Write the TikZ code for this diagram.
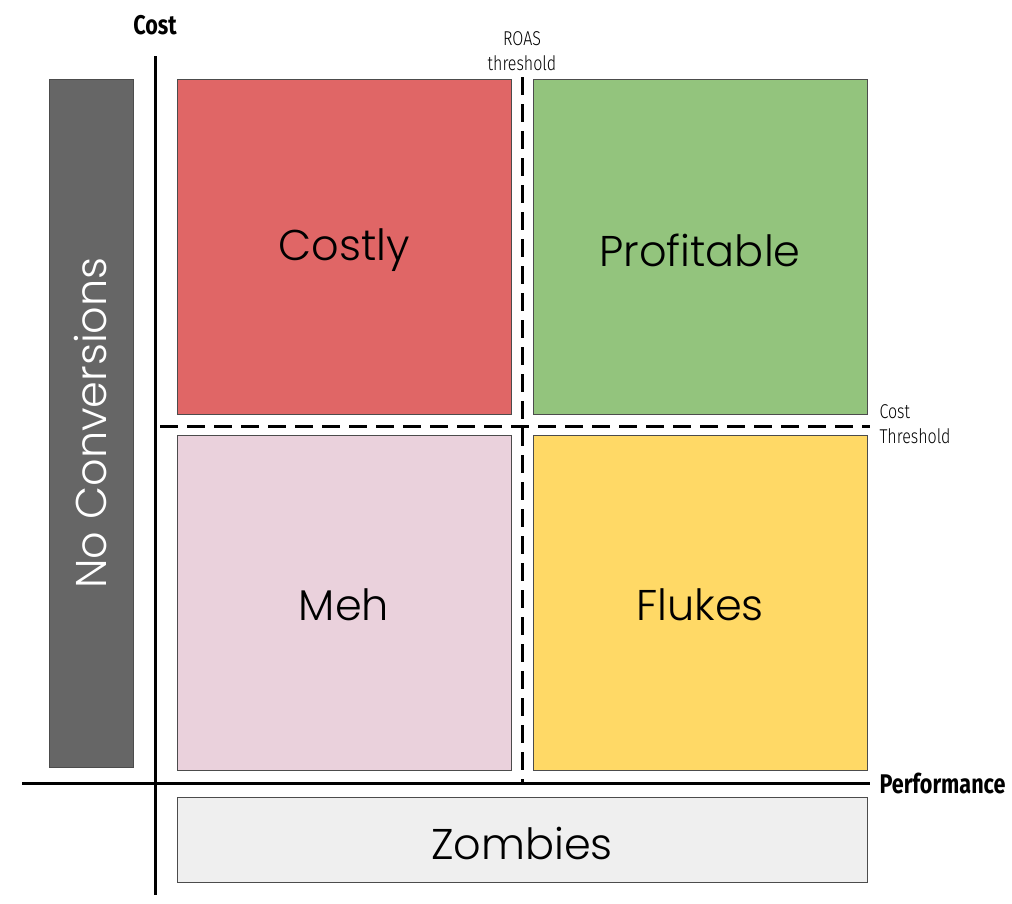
\documentclass[tikz,border=0pt]{standalone}
\usepackage{fontspec}
\setmainfont{Poppins Light}
\newfontfamily\condfont[FakeStretch=0.8]{Fira Sans}
\newfontfamily\condfontL[FakeStretch=0.8]{Fira Sans Light}
\begin{document}
\begin{tikzpicture}[x=1pt,y=-1pt,
  quad/.style={draw=black!70, line width=0.8pt, minimum width=334pt, minimum height=335pt, anchor=north west, inner sep=0pt},
  qlabel/.style={font=\fontsize{43}{45}\selectfont},
  axis/.style={line width=3pt, black},
  thresh/.style={line width=3pt, black, dash pattern=on 18pt off 9pt},
  small/.style={font=\condfontL\fontsize{20}{25}\selectfont, align=left},
  axlabel/.style={font=\condfont\bfseries\fontsize{27}{28}\selectfont}]
\useasboundingbox (0,0) rectangle (1012,903);
\definecolor{cred}{HTML}{E06666}
\definecolor{cgreen}{HTML}{93C47D}
\definecolor{cpink}{HTML}{EAD1DC}
\definecolor{cyellow}{HTML}{FFD966}
\definecolor{cgray}{HTML}{EFEFEF}
\definecolor{cdark}{HTML}{666666}

\node[quad, fill=cred] (costly) at (177,79) {};
\node[quad, fill=cgreen] (profit) at (533,79) {};
\node[quad, fill=cpink] (meh) at (177,435) {};
\node[quad, fill=cyellow] (flukes) at (533,435) {};
\node[quad, fill=cgray, minimum width=690pt, minimum height=85pt] (zombies) at (177,797) {};
\node[quad, fill=cdark, minimum width=84pt, minimum height=688pt] (nocon) at (49,79) {};

\node[qlabel] at (344,250) {Costly};
\node[qlabel] at (700,250) {Profitable};
\node[qlabel] at (344,605) {Meh};
\node[qlabel] at (700,605) {Flukes};
\node[qlabel] at (522,843) {Zombies};
\node[qlabel, white, rotate=90] at (91,423) {No Conversions};

\coordinate (vtop) at (155,56);
\coordinate (vbot) at (155,895);
\coordinate (hleft) at (22,783);
\coordinate (hright) at (870,783);
\draw[axis] (vtop) -- (vbot);
\draw[axis] (hleft) -- (hright);

\coordinate (rtop) at (522,77);
\coordinate (rbot) at (522,783);
\coordinate (cleft) at (160,426);
\coordinate (cright) at (870,426);
\draw[thresh] (rtop) -- (rbot);
\draw[thresh] (cleft) -- (cright);

\node[axlabel] (costlab) at (155,25) {Cost};
\node[axlabel, anchor=west] (perflab) at (876,783) {Performance};
\node[small, align=center] (roas) at (522,51) {ROAS\\threshold};
\node[small, anchor=west] (cthr) at (876,424) {Cost\\Threshold};
\end{tikzpicture}
\end{document}
